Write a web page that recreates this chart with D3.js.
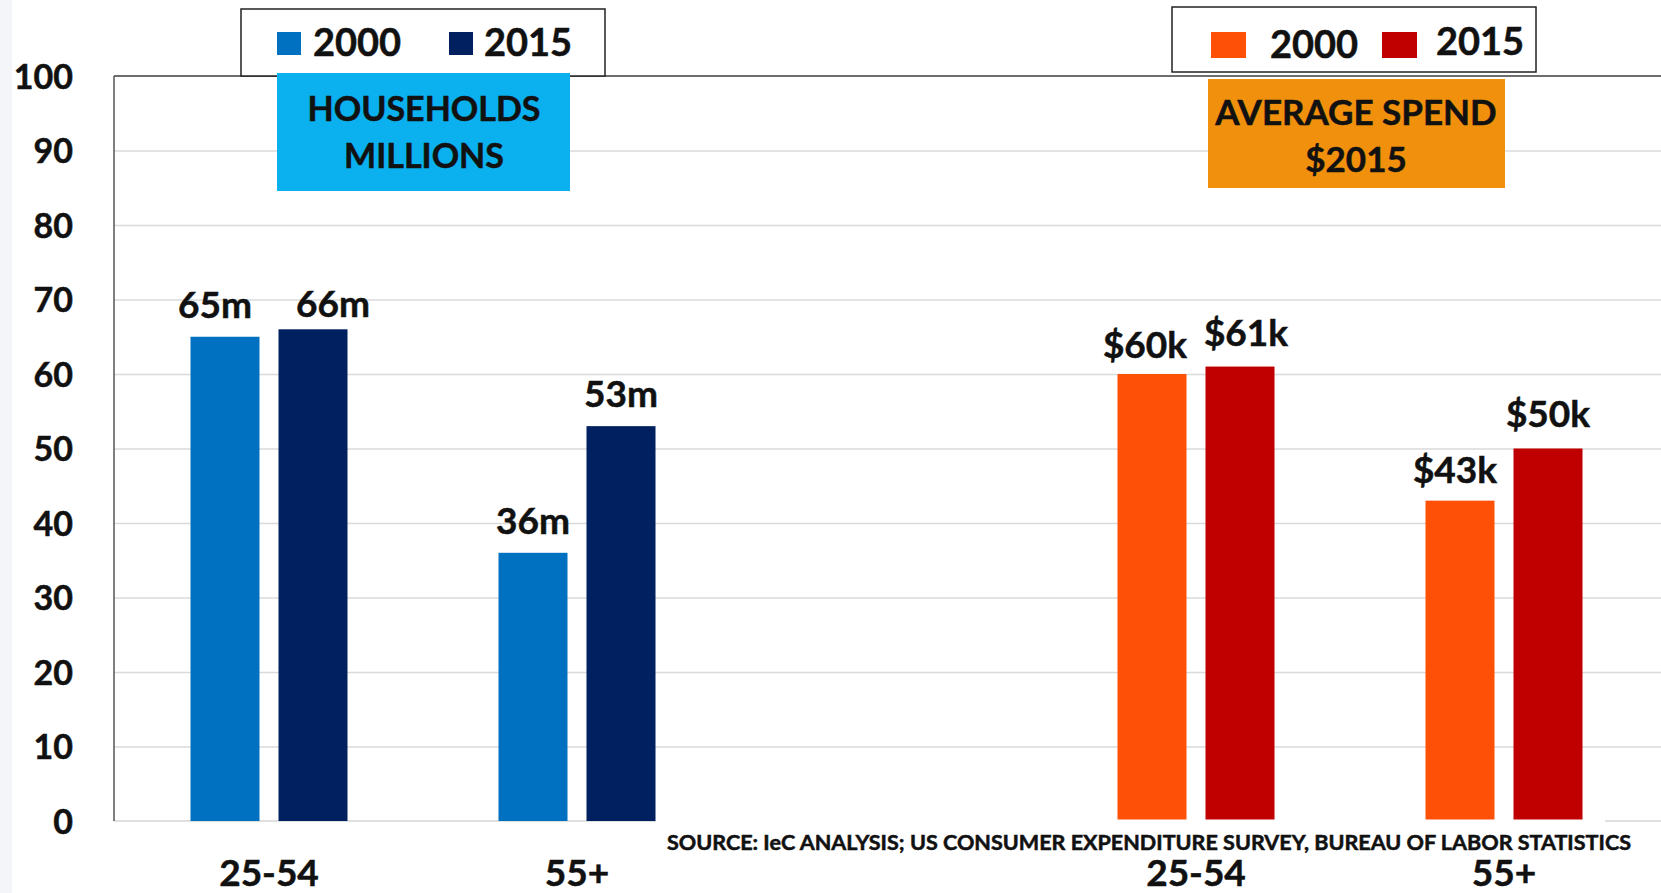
<!DOCTYPE html>
<html>
<head>
<meta charset="utf-8">
<script src="https://cdn.jsdelivr.net/npm/d3@7"></script>
<style>
  html, body { margin: 0; padding: 0; background: #ffffff; }
  svg { display: block; }
  text { font-family: Lato, "Open Sans", sans-serif; font-weight: 700; fill: #111;
         stroke: #111; stroke-width: 0.5px; }
</style>
</head>
<body>
<svg id="chart" width="1661" height="893"></svg>
<script>
// ---- data ----
const panels = ["households", "spend"];
const ageGroups = ["25-54", "55+"];
const years = ["2000", "2015"];
const householdsMillions = [[65, 66], [36, 53]];   // [age group][year]
const spendThousands = [[60, 61], [43, 50]];       // [age group][year]
const householdLabels = [["65m", "66m"], ["36m", "53m"]];
const spendLabels = [["$60k", "$61k"], ["$43k", "$50k"]];
const yTicks = [0, 10, 20, 30, 40, 50, 60, 70, 80, 90, 100];
const panelTitles = [["HOUSEHOLDS", "MILLIONS"], ["AVERAGE SPEND", "$2015"]];
const sourceNote = "SOURCE: IeC ANALYSIS; US CONSUMER EXPENDITURE SURVEY, BUREAU OF LABOR STATISTICS";

// ---- styling / layout ----
const colors = {
  households: ["#0070C0", "#002060"],
  spend: ["#FF5008", "#C00000"]
};
const titleFill = ["#0BB0EE", "#F0900C"];
// small hand nudges for value labels [dx, dy]
const labelNudge = {
  households: [[[-10, 0], [20, 7]], [[0, 0], [0, 0]]],
  spend: [[[-7, 3], [6, -2]], [[-5, 1], [0, -3]]]
};

const svg = d3.select("#chart");
const plot = { left: 114, top: 76, right: 1661, bottom: 821 };

// faint strip along the left edge
svg.append("rect").attr("x", 0).attr("y", 0).attr("width", 12).attr("height", 893)
  .attr("fill", "#f3f5f9");

const y = d3.scaleLinear().domain([0, 100]).range([plot.bottom, plot.top]);
const xPanel = d3.scalePoint().domain(panels).range([423, 1350]);
const xGroup = d3.scalePoint().domain(ageGroups).range([-154, 154]);
const xYear = d3.scaleBand().domain(years).range([-78.5, 78.5]).paddingInner(0.2159);

// gridlines
const grid = svg.append("g").attr("transform", `translate(${plot.left},0)`)
  .call(d3.axisLeft(y).tickValues(yTicks.filter(t => t > 0 && t < 100))
    .tickSize(-(plot.right - plot.left)).tickFormat(""));
grid.select(".domain").remove();
grid.selectAll(".tick line").attr("stroke", "#dadada").attr("stroke-width", 1.5);

// zero line
svg.append("line")
  .attr("x1", plot.left).attr("x2", plot.right)
  .attr("y1", y(0)).attr("y2", y(0))
  .attr("stroke", "#d6d6d6").attr("stroke-width", 1.5);

// y axis labels
const yAxis = svg.append("g").attr("transform", `translate(${plot.left},0)`)
  .call(d3.axisLeft(y).tickValues(yTicks).tickSize(0).tickPadding(41));
yAxis.select(".domain").remove();
yAxis.selectAll(".tick text")
  .attr("font-family", "Lato, 'Open Sans', sans-serif")
  .attr("font-weight", 700).attr("font-size", 34).attr("fill", "#111")
  .attr("dy", "0.36em");

// plot frame (top and left edges)
svg.append("line")
  .attr("x1", plot.left).attr("x2", plot.right)
  .attr("y1", plot.top).attr("y2", plot.top)
  .attr("stroke", "#3c3c3c").attr("stroke-width", 1.5);
svg.append("line")
  .attr("x1", plot.left).attr("x2", plot.left)
  .attr("y1", plot.top).attr("y2", plot.bottom)
  .attr("stroke", "#555").attr("stroke-width", 1.5);

// bars and value labels
const panelData = {
  households: { values: householdsMillions, labels: householdLabels },
  spend: { values: spendThousands, labels: spendLabels }
};
panels.forEach(p => {
  const g = svg.append("g").attr("class", "panel-" + p);
  const rows = [];
  ageGroups.forEach((a, ai) => years.forEach((yr, yi) => {
    rows.push({ age: a, year: yr, value: panelData[p].values[ai][yi],
      label: panelData[p].labels[ai][yi], nudge: labelNudge[p][ai][yi],
      color: colors[p][yi] });
  }));
  const xOf = d => xPanel(p) + xGroup(d.age) + xYear(d.year);
  g.selectAll("rect").data(rows).join("rect")
    .attr("x", xOf)
    .attr("width", xYear.bandwidth())
    .attr("y", d => y(d.value))
    .attr("height", d => y(0) - y(d.value))
    .attr("fill", d => d.color);
  g.selectAll("text.val").data(rows).join("text")
    .attr("class", "val")
    .attr("x", d => xOf(d) + xYear.bandwidth() / 2 + d.nudge[0])
    .attr("y", d => y(d.value) - 19 + d.nudge[1])
    .attr("text-anchor", "middle")
    .attr("font-size", 37)
    .text(d => d.label);
  // category labels
  g.selectAll("text.cat").data(ageGroups).join("text")
    .attr("class", "cat")
    .attr("x", a => xPanel(p) + xGroup(a))
    .attr("y", 886)
    .attr("text-anchor", "middle")
    .attr("font-size", 37)
    .text(a => a);
});

// legends
const legends = [
  { panel: "households", box: [241, 9, 364, 67], items: [
      { sw: [277, 32, 24, 23], tx: 313, ty: 56 },
      { sw: [449, 32, 24, 23], tx: 484, ty: 56 }] },
  { panel: "spend", box: [1172, 7, 364, 65], items: [
      { sw: [1211, 32, 35, 26], tx: 1270, ty: 58 },
      { sw: [1382, 32, 35, 26], tx: 1436, ty: 55 }] }
];
legends.forEach(L => {
  const g = svg.append("g").attr("class", "legend-" + L.panel);
  g.append("rect")
    .attr("x", L.box[0]).attr("y", L.box[1]).attr("width", L.box[2]).attr("height", L.box[3])
    .attr("fill", "#fff").attr("stroke", "#222").attr("stroke-width", 1.5);
  L.items.forEach((it, i) => {
    g.append("rect").attr("x", it.sw[0]).attr("y", it.sw[1])
      .attr("width", it.sw[2]).attr("height", it.sw[3]).attr("fill", colors[L.panel][i]);
    g.append("text").attr("x", it.tx).attr("y", it.ty)
      .attr("font-size", 38).text(years[i]);
  });
});

// panel title boxes
const titleBoxes = [
  { box: [277, 73, 293, 118], cx: 424, lines: [121, 168], size: 34 },
  { box: [1208, 79, 297, 109], cx: 1356, lines: [125, 172], size: 35 }
];
titleBoxes.forEach((t, i) => {
  const g = svg.append("g");
  g.append("rect").attr("x", t.box[0]).attr("y", t.box[1])
    .attr("width", t.box[2]).attr("height", t.box[3]).attr("fill", titleFill[i]);
  panelTitles[i].forEach((line, li) => {
    g.append("text").attr("x", t.cx).attr("y", t.lines[li])
      .attr("text-anchor", "middle").attr("font-size", t.size).text(line);
  });
});

// source note on a white strip
svg.append("rect").attr("x", 656).attr("y", y(0) - 1.5)
  .attr("width", 949).attr("height", 34).attr("fill", "#fff");
svg.append("text").attr("x", 667).attr("y", 850)
  .attr("font-size", 20)
  .attr("textLength", 964).attr("lengthAdjust", "spacingAndGlyphs")
  .text(sourceNote);
</script>
</body>
</html>
